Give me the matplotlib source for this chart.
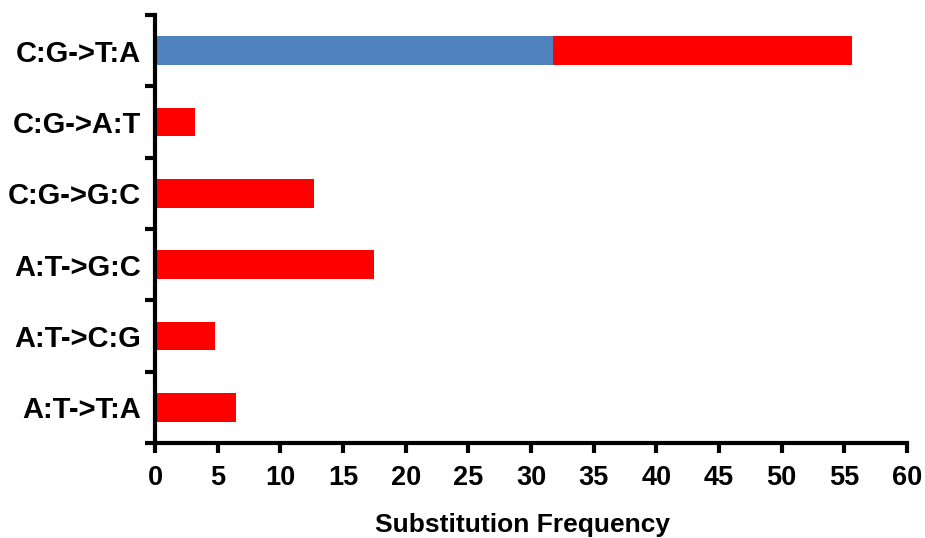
import matplotlib
matplotlib.use("Agg")
import matplotlib.pyplot as plt
import numpy as np

plt.rcParams['font.family'] = ['Liberation Sans', 'DejaVu Sans']

categories = ["C:G->T:A", "C:G->A:T", "C:G->G:C", "A:T->G:C", "A:T->C:G", "A:T->T:A"]
blue_values = [31.75, 0, 0, 0, 0, 0]
red_values = [23.85, 3.2, 12.7, 17.5, 4.8, 6.5]
x_ticks = [0, 5, 10, 15, 20, 25, 30, 35, 40, 45, 50, 55, 60]

fig = plt.figure(figsize=(9.25, 5.38), dpi=100)
ax = fig.add_axes([155/925, 1-443/538, (907-155)/925, (443-15)/538])

n = len(categories)
ypos = np.arange(n)[::-1]
bh = 0.4
ax.barh(ypos, blue_values, height=bh, color="#4F81BD", linewidth=0)
ax.barh(ypos, red_values, left=blue_values, height=bh, color="#FF0000", linewidth=0)

ax.set_xlim(0, 60)
ax.set_ylim(-0.5, n - 0.5)
ax.set_xticks(x_ticks)
ax.set_xticklabels([str(t) for t in x_ticks], fontsize=19.5, fontweight='bold')
ax.set_yticks(ypos)
ax.set_yticklabels(categories, fontsize=21, fontweight='bold')
ax.set_yticks(np.arange(-0.5, n, 1.0), minor=True)
ax.tick_params(axis='y', which='major', length=0, pad=10)
ax.tick_params(axis='y', which='minor', length=7, width=3, direction='out')
ax.tick_params(axis='x', which='major', length=7, width=3, direction='out', pad=9)

for s in ['top', 'right']:
    ax.spines[s].set_visible(False)
for s in ['left', 'bottom']:
    ax.spines[s].set_linewidth(3)

ax.set_xlabel("Substitution Frequency", fontsize=19, fontweight='bold', labelpad=16)
ax.xaxis.label.set_x(0.489)

fig.savefig("out.png", dpi=100)
